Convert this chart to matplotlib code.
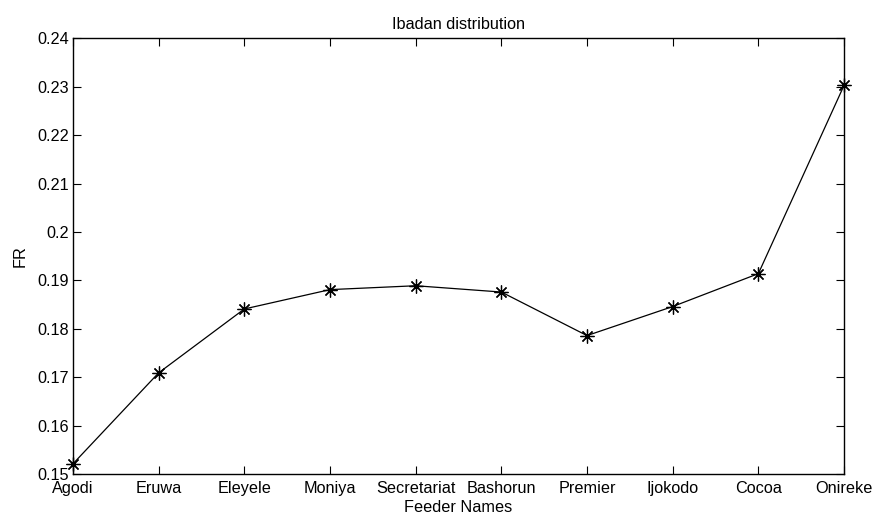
import matplotlib
matplotlib.use('Agg')
import matplotlib.pyplot as plt

feeders = ['Agodi', 'Eruwa', 'Eleyele', 'Moniya', 'Secretariat',
           'Bashorun', 'Premier', 'Ijokodo', 'Cocoa', 'Onireke']
fr = [0.1521, 0.1709, 0.1841, 0.1881, 0.1889,
      0.1876, 0.1786, 0.1846, 0.1914, 0.2303]
yticks = [0.15, 0.16, 0.17, 0.18, 0.19, 0.2, 0.21, 0.22, 0.23, 0.24]
ytick_labels = ['0.15', '0.16', '0.17', '0.18', '0.19', '0.2',
                '0.21', '0.22', '0.23', '0.24']

plt.rcParams['font.family'] = ['Liberation Sans', 'DejaVu Sans']
fs = 11.7

fig = plt.figure(figsize=(8.75, 5.2), dpi=100)
ax = fig.add_axes([0.0834, 0.0885, 0.9646 - 0.0834, 0.926 - 0.0885])

x = range(len(feeders))
ax.plot(x, fr, color='black', linewidth=0.9,
        marker=(8, 2, 0), markersize=10, markeredgewidth=0.9,
        markeredgecolor='black', clip_on=False)

ax.set_xlim(0, len(feeders) - 1)
ax.set_ylim(0.15, 0.24)
ax.set_xticks(list(x))
ax.set_xticklabels(feeders)
ax.set_yticks(yticks)
ax.set_yticklabels(ytick_labels)
ax.tick_params(direction='in', length=6, width=0.8, top=True, right=True,
               labelsize=fs, colors='black')
ax.tick_params(axis='x', pad=5)
ax.tick_params(axis='y', pad=3)
for s in ax.spines.values():
    s.set_linewidth(1.0)

ax.set_title('Ibadan distribution', fontsize=fs, pad=7)
ax.set_xlabel('Feeder Names', fontsize=fs, labelpad=3)
ax.set_ylabel('FR', fontsize=fs, labelpad=7)

fig.savefig('out.png', dpi=100)
